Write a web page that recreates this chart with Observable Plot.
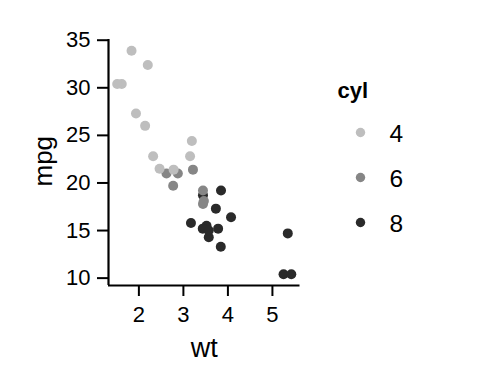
<!DOCTYPE html>
<html>
<head>
<meta charset="utf-8">
<script src="https://cdn.jsdelivr.net/npm/d3@7"></script>
<script src="https://cdn.jsdelivr.net/npm/@observablehq/plot@0.6"></script>
<style>
  html, body { margin: 0; padding: 0; background: #fff; }
  #wrap { position: relative; width: 480px; height: 384px; font-family: "Liberation Sans", Arial, sans-serif; }
  #wrap > svg { position: absolute; left: 0; top: 0; margin: 0; }
</style>
</head>
<body>
<div id="wrap"></div>
<script>
// mtcars: weight (1000 lbs), miles per gallon, cylinders
const wt  = [2.620, 2.875, 2.320, 3.215, 3.440, 3.460, 3.570, 3.190, 3.150, 3.440, 3.440,
             4.070, 3.730, 3.780, 5.250, 5.424, 5.345, 2.200, 1.615, 1.835, 2.465, 3.520,
             3.435, 3.840, 3.845, 1.935, 2.140, 1.513, 3.170, 2.770, 3.570, 2.780];
const mpg = [21.0, 21.0, 22.8, 21.4, 18.7, 18.1, 14.3, 24.4, 22.8, 19.2, 17.8,
             16.4, 17.3, 15.2, 10.4, 10.4, 14.7, 32.4, 30.4, 33.9, 21.5, 15.5,
             15.2, 13.3, 19.2, 27.3, 26.0, 30.4, 15.8, 19.7, 15.0, 21.4];
const cyl = ["6", "6", "4", "6", "8", "6", "8", "4", "4", "6", "6",
             "8", "8", "8", "8", "8", "8", "4", "4", "4", "4", "8",
             "8", "8", "8", "4", "4", "4", "8", "6", "8", "4"];
const cylLevels = ["4", "6", "8"];
const cylColors = ["#bebebe", "#868686", "#2a2a2a"];
const xTicks = [2, 3, 4, 5];
const yTicks = [10, 15, 20, 25, 30, 35];

const cars = wt.map((w, i) => ({wt: w, mpg: mpg[i], cyl: cyl[i]}));

// ggplot-style 5% expansion of the data range
function expand(vals) {
  const [a, b] = d3.extent(vals);
  const p = (b - a) * 0.05;
  return [a - p, b + p];
}
const xDom = expand(wt);
const yDom = expand(mpg);

const font = "Liberation Sans, Arial, sans-serif";

const main = Plot.plot({
  width: 480,
  height: 384,
  marginLeft: 108,
  marginRight: 180.5,
  marginTop: 39,
  marginBottom: 99,
  style: {fontFamily: font, background: "transparent", color: "#000"},
  x: {domain: xDom},
  y: {domain: yDom},
  color: {type: "ordinal", domain: cylLevels, range: cylColors},
  marks: [
    Plot.axisX({ticks: xTicks, tickFormat: d3.format("d"), tickSize: 11, tickPadding: 10, fontSize: 22, label: null, strokeWidth: 2}),
    Plot.axisY({ticks: yTicks, tickFormat: d3.format("d"), tickSize: 11, tickPadding: 7, fontSize: 22, label: null, strokeWidth: 2}),
    Plot.ruleY([yDom[0]], {stroke: "#000", strokeWidth: 2.2}),
    Plot.ruleX([xDom[0]], {stroke: "#000", strokeWidth: 2.2}),
    Plot.dot(cars, {x: "wt", y: "mpg", fill: "cyl", r: 5, stroke: null}),
    Plot.text(["wt"], {frameAnchor: "bottom", dy: 71, lineAnchor: "bottom", fontSize: 27, fill: "#000"}),
    Plot.text(["mpg"], {frameAnchor: "left", dx: -65, dy: 24, rotate: -90, fontSize: 26, fill: "#000"})
  ]
});

const legend = Plot.plot({
  width: 480,
  height: 384,
  marginLeft: 360,
  marginRight: 0,
  marginTop: 80,
  marginBottom: 140,
  style: {fontFamily: font, background: "transparent", color: "#000"},
  x: {axis: null},
  y: {type: "point", domain: cylLevels, range: [131.5, 223], padding: 0, axis: null},
  color: {type: "ordinal", domain: cylLevels, range: cylColors},
  marks: [
    Plot.dot(cylLevels, {frameAnchor: "left", y: d => d, fill: d => d, r: 4.7, stroke: null}),
    Plot.text(cylLevels, {frameAnchor: "left", y: d => d, text: d => d, dx: 29, dy: 2, textAnchor: "start", fontSize: 24.5, fill: "#000"}),
    Plot.text(["cyl"], {frameAnchor: "top-left", dx: -23, dy: 17, lineAnchor: "bottom", textAnchor: "start", fontSize: 22, fontWeight: "bold", fill: "#000"})
  ]
});

const wrap = document.getElementById("wrap");
wrap.appendChild(main);
wrap.appendChild(legend);
</script>
</body>
</html>
